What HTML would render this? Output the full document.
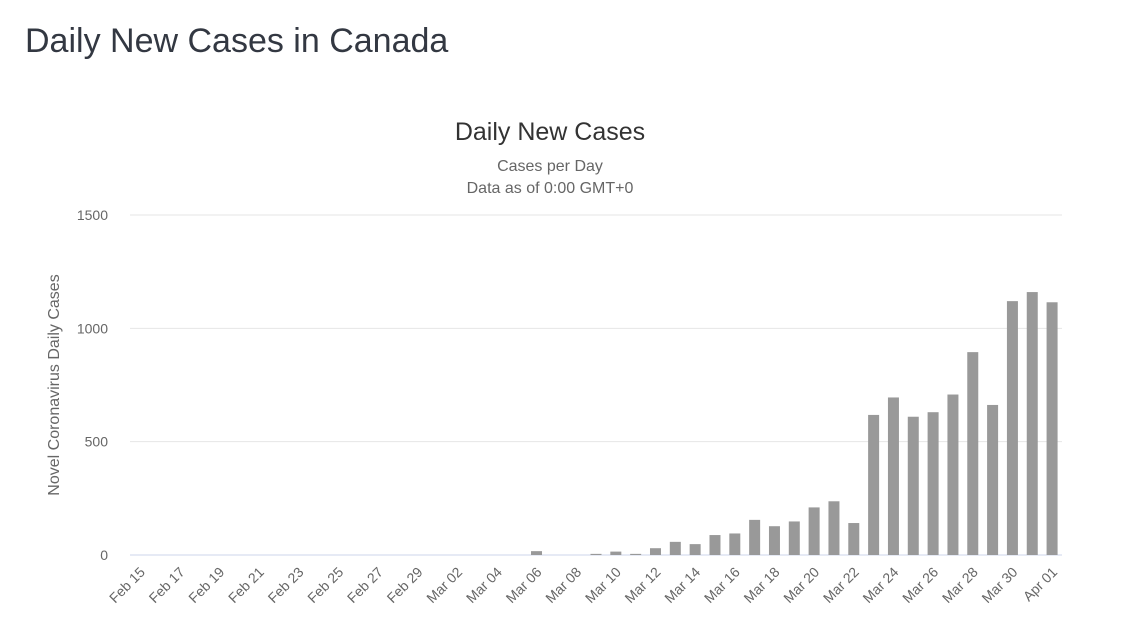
<!DOCTYPE html>
<html><head><meta charset="utf-8"><style>
body{margin:0;background:#fff;font-family:"Liberation Sans",sans-serif;}
#wrap{position:relative;width:1121px;height:630px;overflow:hidden}
h1{position:absolute;left:25px;top:22px;margin:0;font-weight:normal;font-size:34px;color:#333842}
</style></head><body><div id="wrap">
<h1>Daily New Cases in Canada</h1>
<svg id="chart" width="1121" height="630" style="position:absolute;left:0;top:0">
<text x="550" y="140" text-anchor="middle" font-size="25" fill="#333">Daily New Cases</text>
<text x="550" y="171" text-anchor="middle" font-size="16" fill="#666">Cases per Day</text>
<text x="550" y="193" text-anchor="middle" font-size="16" fill="#666">Data as of 0:00 GMT+0</text>
<text transform="translate(59,385) rotate(-90)" text-anchor="middle" font-size="16" fill="#666">Novel Coronavirus Daily Cases</text>
<g id="grid"></g><g id="bars"></g><g id="xl"></g>
</svg></div>
<script>
const categories=["Feb 15","Feb 16","Feb 17","Feb 18","Feb 19","Feb 20","Feb 21","Feb 22","Feb 23","Feb 24","Feb 25","Feb 26","Feb 27","Feb 28","Feb 29","Mar 01","Mar 02","Mar 03","Mar 04","Mar 05","Mar 06","Mar 07","Mar 08","Mar 09","Mar 10","Mar 11","Mar 12","Mar 13","Mar 14","Mar 15","Mar 16","Mar 17","Mar 18","Mar 19","Mar 20","Mar 21","Mar 22","Mar 23","Mar 24","Mar 25","Mar 26","Mar 27","Mar 28","Mar 29","Mar 30","Mar 31","Apr 01"];
const cases=[0,0,0,0,0,0,0,0,0,0,0,0,0,0,0,0,0,0,0,0,17,0,0,5,15,5,30,58,48,88,95,155,127,148,210,237,141,618,695,610,630,708,895,662,1120,1160,1115];
const yTicks=[0,500,1000,1500];
const NS="http://www.w3.org/2000/svg";
const x0=130,x1=1062,yBase=555,yTop=215,yMax=1500;
const step=(x1-x0)/categories.length;
const xc=i=>x0+step*(i+0.5);
const y=v=>yBase-(v/yMax)*(yBase-yTop);
function mk(t,a){const e=document.createElementNS(NS,t);for(const k in a)e.setAttribute(k,a[k]);return e;}
const grid=document.getElementById('grid');
yTicks.forEach(t=>{
 const l=mk('line',{x1:x0,x2:x1,y1:y(t),y2:y(t),stroke:t===0?'#ccd6eb':'#e6e6e6','stroke-width':1});
 
 
 grid.appendChild(l);
 const tx=mk('text',{x:108,y:y(t)+5,'text-anchor':'end','font-size':14,fill:'#666'});
 tx.textContent=t;
 
 
 grid.appendChild(tx);
});
const bars=document.getElementById('bars'),xl=document.getElementById('xl');
categories.forEach((c,i)=>{
 const v=cases[i];
 if(v>0){
  const r=mk('rect',{x:xc(i)-5.5,y:y(v),width:11,height:yBase-y(v),fill:'#999'});
  
  
  bars.appendChild(r);
 }
 if(i%2===0){
  const t=mk('text',{transform:`translate(${xc(i)+6},${yBase+18}) rotate(-45)`,'text-anchor':'end','font-size':14,fill:'#666'});
  t.textContent=c;
  
  
  xl.appendChild(t);
 }
});
</script></body></html>
